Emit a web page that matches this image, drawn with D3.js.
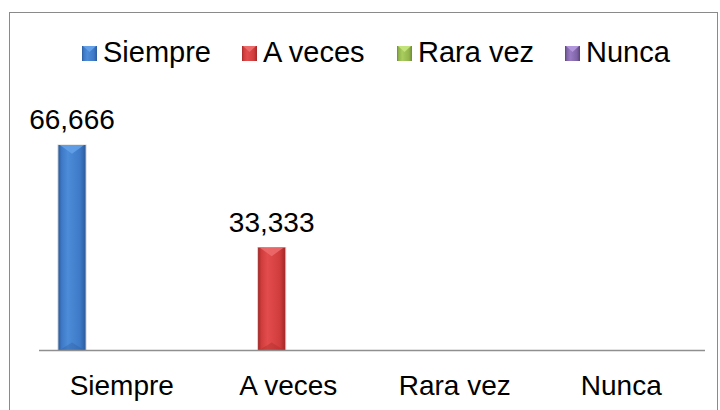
<!DOCTYPE html>
<html>
<head>
<meta charset="utf-8">
<script src="https://cdn.jsdelivr.net/npm/d3@7"></script>
<style>
  body { margin: 0; background: #fff; }
  text { font-family: Arial, "Liberation Sans", sans-serif; fill: #000; }
</style>
</head>
<body>
<div id="chart"></div>
<script>
// categories on the x axis and series names (same words here)
var categories = ["Siempre", "A veces", "Rara vez", "Nunca"];
var seriesNames = ["Siempre", "A veces", "Rara vez", "Nunca"];

// one value per category for each series, null = empty cell
var siempreVals = [66.666, null, null, null];
var aVecesVals = [null, 33.333, null, null];
var raraVezVals = [null, null, null, null];
var nuncaVals = [null, null, null, null];

var seriesColors = [
  { dark: "#2c5c9c", light: "#4d8cd8", mid: "#3d79c6", bevel: "#63a0e8" },
  { dark: "#a22828", light: "#e34c4c", mid: "#d03c3c", bevel: "#ec6a6a" },
  { dark: "#6d8a38", light: "#a9cd5e", mid: "#93b54c", bevel: "#c2e27a" },
  { dark: "#574374", light: "#997bc3", mid: "#7f63a6", bevel: "#b296dc" }
];

var width = 720, height = 410;
var allVals = [siempreVals, aVecesVals, raraVezVals, nuncaVals];

// build a flat list of bars from the arrays
var bars = [];
allVals.forEach((vals, s) => {
  vals.forEach((v, c) => {
    if (v != null) bars.push({ series: s, name: seriesNames[s], cat: categories[c], value: v });
  });
});

var svg = d3.select("#chart").append("svg")
  .attr("width", width)
  .attr("height", height);

// chart border
svg.append("rect")
  .attr("x", 9.5).attr("y", 12.5)
  .attr("width", 708).attr("height", 420)
  .attr("fill", "none")
  .attr("stroke", "#8a8a8a")
  .attr("stroke-width", 1);

var defs = svg.append("defs");
seriesColors.forEach((c, i) => {
  var g = defs.append("linearGradient").attr("id", "grad" + i)
    .attr("x1", "0%").attr("x2", "100%").attr("y1", "0%").attr("y2", "0%");
  g.append("stop").attr("offset", "0%").attr("stop-color", c.dark);
  g.append("stop").attr("offset", "12%").attr("stop-color", c.mid);
  g.append("stop").attr("offset", "35%").attr("stop-color", c.light);
  g.append("stop").attr("offset", "80%").attr("stop-color", c.mid);
  g.append("stop").attr("offset", "100%").attr("stop-color", c.dark);
});

var x = d3.scaleBand().domain(categories).range([38.5, 704.5]).padding(0);
var xs = d3.scaleBand().domain(seriesNames).range([0, x.bandwidth()])
  .paddingInner(0.18).paddingOuter(0.6);
var y = d3.scaleLinear().domain([0, 80]).range([350, 104]);

var fmt = d3.formatLocale({ decimal: ",", thousands: ".", grouping: [3], currency: ["", ""] }).format(".3f");

// bars
var barG = svg.append("g").selectAll("g").data(bars).enter().append("g");

// soft shadow
barG.append("rect")
  .attr("x", d => x(d.cat) + xs(d.name) - 1)
  .attr("y", d => y(d.value) - 0.5)
  .attr("width", xs.bandwidth() + 2)
  .attr("height", d => y(0) - y(d.value) + 0.5)
  .attr("fill", "#d6d6d6");

barG.append("rect")
  .attr("x", d => x(d.cat) + xs(d.name))
  .attr("y", d => y(d.value))
  .attr("width", xs.bandwidth())
  .attr("height", d => y(0) - y(d.value))
  .attr("fill", d => "url(#grad" + d.series + ")");

// top bevel
barG.append("polygon")
  .attr("points", d => {
    var x0 = x(d.cat) + xs(d.name), x1 = x0 + xs.bandwidth(), t = y(d.value);
    var cx = (x0 + x1) / 2;
    return [[x0 + 1.5, t], [x1 - 1.5, t], [cx, t + xs.bandwidth() * 0.32]].join(" ");
  })
  .attr("fill", d => seriesColors[d.series].bevel)
  .attr("opacity", 0.9);

// bottom bevel
barG.append("polygon")
  .attr("points", d => {
    var x0 = x(d.cat) + xs(d.name), x1 = x0 + xs.bandwidth(), b = y(0);
    var cx = (x0 + x1) / 2;
    return [[x0 + 1.5, b], [x1 - 1.5, b], [cx, b - xs.bandwidth() * 0.28]].join(" ");
  })
  .attr("fill", d => seriesColors[d.series].dark)
  .attr("opacity", 0.35);

// value labels
svg.append("g").selectAll("text").data(bars).enter().append("text")
  .attr("x", d => x(d.cat) + xs(d.name) + xs.bandwidth() / 2)
  .attr("y", d => y(d.value) - 16)
  .attr("text-anchor", "middle")
  .style("font-size", "28px")
  .text(d => fmt(d.value));

// category axis
var xAxis = d3.axisBottom(x).tickSize(0).tickSizeOuter(0).tickPadding(25);
var axG = svg.append("g")
  .attr("transform", "translate(0," + y(0) + ")")
  .call(xAxis);
axG.select(".domain").attr("stroke", "#8f8f8f").attr("stroke-width", 1.5);
axG.selectAll("text")
  .style("font-size", "28px")
  .style("font-family", "Arial, 'Liberation Sans', sans-serif")
  .attr("fill", "#000");

// legend
var legendX = [82, 242, 397, 565];
var leg = svg.append("g").selectAll("g").data(seriesNames).enter().append("g")
  .attr("transform", (d, i) => "translate(" + legendX[i] + ",46)");
leg.append("rect")
  .attr("width", 15).attr("height", 15)
  .attr("fill", (d, i) => "url(#grad" + i + ")");
leg.append("polygon")
  .attr("points", "1,0 14,0 7.5,6")
  .attr("fill", (d, i) => seriesColors[i].bevel);
leg.append("text")
  .attr("x", 21)
  .attr("y", 16)
  .style("font-size", "29px")
  .text(d => d);
</script>
</body>
</html>
